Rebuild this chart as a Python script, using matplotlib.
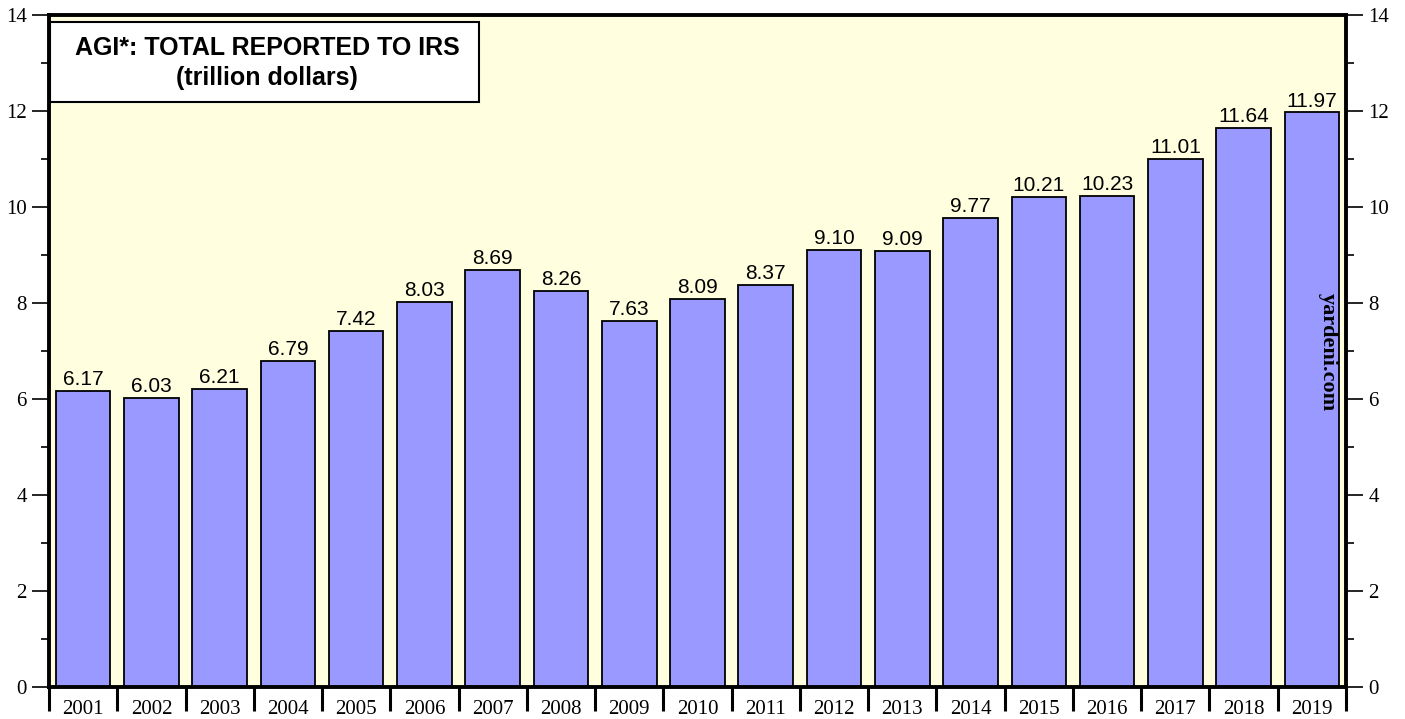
import numpy as np
import matplotlib.pyplot as plt
from matplotlib.ticker import MultipleLocator, FixedLocator

years = [str(y) for y in range(2001, 2020)]
agi = [6.17, 6.03, 6.21, 6.79, 7.42, 8.03, 8.69, 8.26, 7.63, 8.09,
       8.37, 9.10, 9.09, 9.77, 10.21, 10.23, 11.01, 11.64, 11.97]
title_text = "AGI*: TOTAL REPORTED TO IRS\n(trillion dollars)"

fig = plt.figure(figsize=(14.05, 7.19), dpi=100)
ax = fig.add_axes([49 / 1405, 1 - 687 / 719, (1346 - 49) / 1405, (687 - 15) / 719])
ax.set_facecolor('#FFFFE0')

x = np.arange(len(years))
ax.bar(x, agi, width=0.8, color='#9999FF', edgecolor='black', linewidth=1.3, zorder=2)
for xi, v in zip(x, agi):
    ax.text(xi, v + 0.04, f"{v:.2f}", ha='center', va='bottom',
            fontsize=15, family='Liberation Sans')

ax.set_xlim(-0.5, len(years) - 0.5)
ax.set_ylim(0, 14)

# x axis: ticks between bars, labels centred under bars
ax.xaxis.set_major_locator(FixedLocator(np.arange(-0.5, len(years), 1.0)))
ax.xaxis.set_minor_locator(FixedLocator(x))
ax.set_xticklabels([])
ax.set_xticklabels(years, minor=True, family='Liberation Serif', fontsize=15)
ax.tick_params(axis='x', which='major', direction='out', length=17, width=2.2)
ax.tick_params(axis='x', which='minor', length=0, pad=9)

# y axis on both sides
ax.yaxis.set_major_locator(MultipleLocator(2))
ax.yaxis.set_minor_locator(MultipleLocator(1))
ax.tick_params(axis='y', which='major', direction='out', length=12, width=1.2,
               left=True, right=True, labelleft=True, labelright=True,
               labelsize=15, pad=4)
ax.tick_params(axis='y', which='minor', direction='out', length=6, width=1.2,
               left=True, right=True)
for lab in ax.get_yticklabels():
    lab.set_family('Liberation Serif')

for s in ax.spines.values():
    s.set_linewidth(2.8)

ax.text((267 - 49) / 1297, 1 - (63 - 15) / 672, title_text, transform=ax.transAxes,
        ha='center', va='center', fontsize=18, fontweight='bold',
        family='Liberation Sans', linespacing=1.3, zorder=5)
# title box
ax.add_patch(plt.Rectangle(((50 - 49) / 1297, 1 - (102 - 15) / 672),
                           (479 - 50) / 1297, (102 - 22) / 672,
                           transform=ax.transAxes, fc='white', ec='black',
                           lw=1.5, zorder=4))

ax.text((1328 - 49) / 1297, 1 - (352 - 15) / 672, "yardeni.com", transform=ax.transAxes,
        rotation=-90, ha='center', va='center', fontsize=16, fontweight='bold',
        family='Liberation Serif', zorder=5)

fig.savefig('out.png', dpi=100)
